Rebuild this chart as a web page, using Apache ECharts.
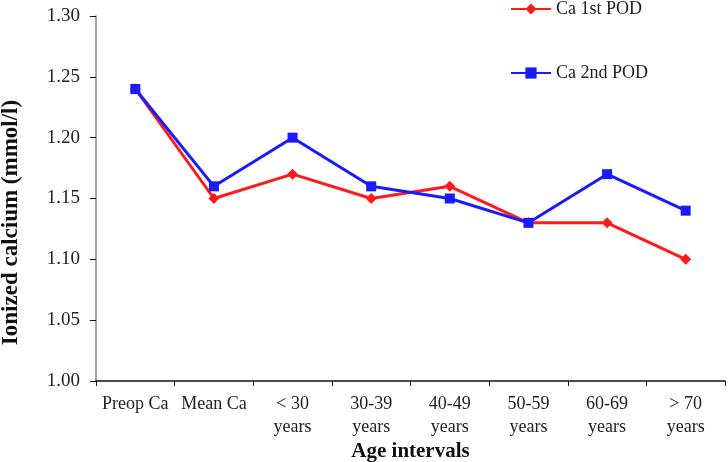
<!DOCTYPE html>
<html>
<head>
<meta charset="utf-8">
<script src="https://cdn.jsdelivr.net/npm/echarts@6/dist/echarts.min.js"></script>
<style>
  html, body { margin: 0; padding: 0; background: #fff; }
  #main { width: 728px; height: 462px; }
</style>
</head>
<body>
<div id="main"></div>
<script>
var categories = ['Preop Ca', 'Mean Ca', '< 30\nyears', '30-39\nyears', '40-49\nyears', '50-59\nyears', '60-69\nyears', '> 70\nyears'];
var ca1st = [1.24, 1.15, 1.17, 1.15, 1.16, 1.13, 1.13, 1.10];
var ca2nd = [1.24, 1.16, 1.20, 1.16, 1.15, 1.13, 1.17, 1.14];

var font = '"Liberation Serif", "Times New Roman", serif';
var myChart = echarts.init(document.getElementById('main'));

var option = {
    backgroundColor: '#fff',
    animation: false,
    grid: { left: 96, right: 3, top: 16, bottom: 81, outerBoundsMode: 'none', containLabel: false },
    legend: {
        orient: 'vertical',
        left: 510,
        top: 0,
        padding: 0,
        itemGap: 46,
        itemWidth: 40,
        itemHeight: 14,
        textStyle: { fontFamily: font, fontSize: 18, color: '#222' },
        data: ['Ca 1st POD', 'Ca 2nd POD']
    },
    xAxis: {
        type: 'category',
        data: categories,
        boundaryGap: true,
        name: 'Age intervals',
        nameLocation: 'middle',
        nameGap: 60,
        nameMoveOverlap: false,
        nameTextStyle: { fontFamily: font, fontSize: 21, fontWeight: 'bold', color: '#111', lineHeight: 21, verticalAlign: 'top' },
        axisLine: { lineStyle: { color: '#111', width: 1.5 } },
        axisTick: { show: true, length: 5, lineStyle: { color: '#111' } },
        axisLabel: { fontFamily: font, fontSize: 18, color: '#222', margin: 12, lineHeight: 23, interval: 0 }
    },
    yAxis: {
        type: 'value',
        min: 1.00,
        max: 1.30,
        interval: 0.05,
        name: 'Ionized calcium (mmol/l)',
        nameLocation: 'middle',
        nameGap: 73,
        nameTextStyle: { fontFamily: font, fontSize: 23, fontWeight: 'bold', color: '#111', padding: [0, 48, 0, 0] },
        axisLine: { show: true, lineStyle: { color: '#888', width: 1.5 } },
        axisTick: { show: true, length: 6, lineStyle: { color: '#111' } },
        splitLine: { show: false },
        axisLabel: {
            fontFamily: font, fontSize: 19, color: '#222', margin: 16,
            formatter: function (v) { return v.toFixed(2); }
        }
    },
    series: [
        {
            name: 'Ca 1st POD',
            type: 'line',
            data: ca1st,
            symbol: 'diamond',
            symbolSize: 11,
            color: '#ff1a1a',
            lineStyle: { width: 3 }
        },
        {
            name: 'Ca 2nd POD',
            type: 'line',
            data: ca2nd,
            symbol: 'rect',
            symbolSize: 10,
            color: '#1a1aff',
            lineStyle: { width: 3 }
        }
    ]
};
myChart.setOption(option);
</script>
</body>
</html>
